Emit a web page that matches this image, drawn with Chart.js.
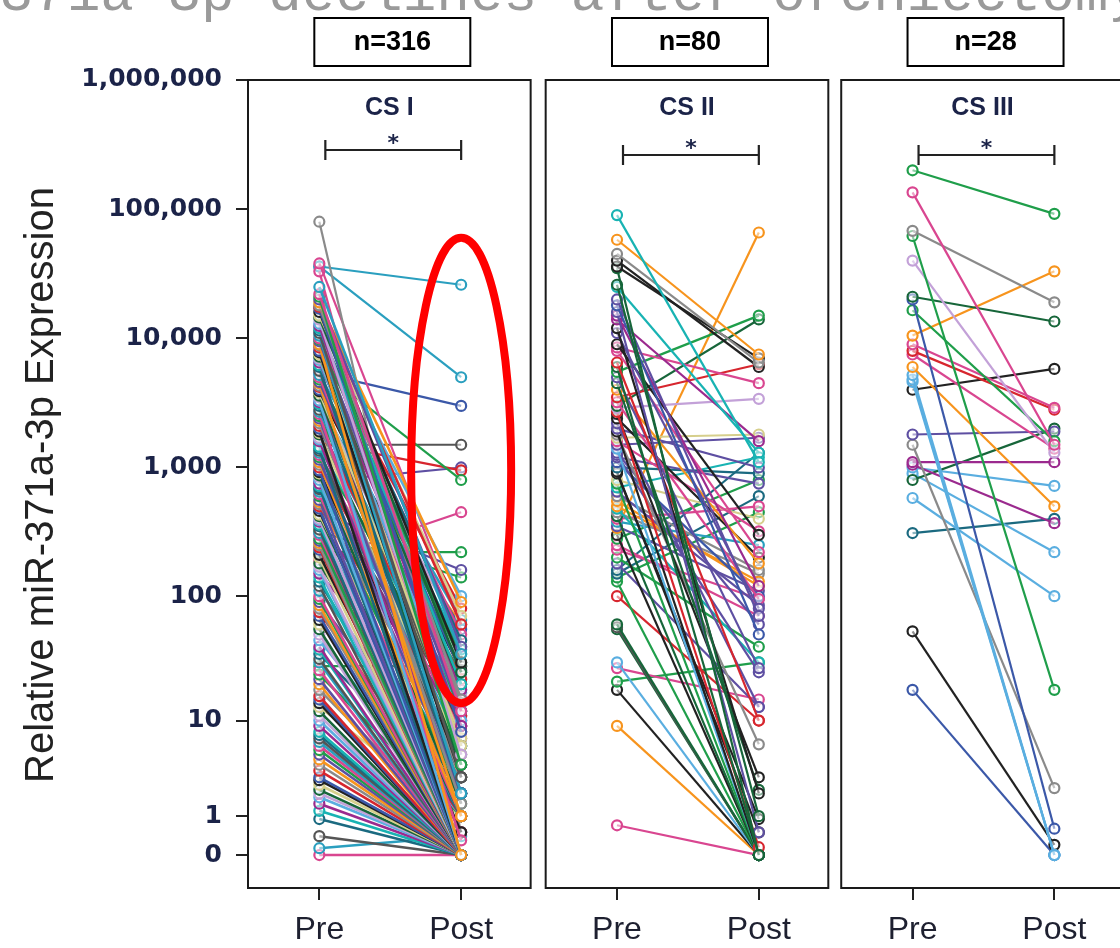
<!DOCTYPE html>
<html>
<head>
<meta charset="utf-8">
<title>miR-371a-3p before and after orchiectomy</title>
<script src="https://cdn.jsdelivr.net/npm/chart.js@4"></script>
<style>
  html, body { margin: 0; padding: 0; background: #fff; overflow: hidden; }
  #wrap { position: relative; width: 1120px; height: 948px; }
</style>
</head>
<body>
<div id="wrap"><canvas id="chart" width="1120" height="948"></canvas></div>
<script>
// ================= DATA =================
const panels = ['CS I', 'CS II', 'CS III'];
const panelN = ['n=316', 'n=80', 'n=28'];
const timepoints = ['Pre', 'Post'];
const yTickValues = [0, 1, 10, 100, 1000, 10000, 100000, 1000000];
const yTickLabels = ['0', '1', '10', '100', '1,000', '10,000', '100,000', '1,000,000'];

// [pre, post] relative expression per patient
const csI = [
  [25000, 35], [22000, 12], [21000, 4], [20000, 40], [19000, 90], [18000, 15], [17500, 60], [17000, 8],
  [16000, 30], [15000, 70], [14500, 25], [14000, 5], [13000, 100], [12500, 9], [12000, 20], [11500, 45],
  [11000, 3], [10500, 2], [10000, 50], [9800, 30], [9500, 12], [9000, 0], [8800, 14], [8500, 80],
  [8000, 25], [7800, 3], [7500, 6], [7200, 20], [7000, 45], [6800, 10], [6500, 18], [6200, 38],
  [6000, 2], [5600, 6], [5200, 65], [5000, 10], [4800, 35], [4600, 15], [4500, 1], [4300, 1.5],
  [4200, 22], [4000, 55], [3900, 26], [3800, 7], [3600, 4], [3500, 16], [3300, 0], [3200, 9],
  [3100, 40], [3000, 4], [2800, 28], [2700, 17], [2600, 0.3], [2500, 12], [2400, 2], [2300, 60],
  [2200, 3], [2100, 11], [2000, 20], [1900, 0], [1850, 5], [1800, 9], [1700, 30], [1650, 22],
  [1600, 2], [1450, 14], [1400, 0], [1350, 3], [1300, 6], [1250, 8], [1200, 25], [1150, 2],
  [1100, 1], [1050, 15], [1000, 11], [950, 0], [920, 4], [900, 40], [870, 1.5], [850, 3],
  [800, 0], [750, 8], [720, 6], [700, 0], [680, 12], [650, 18], [620, 1], [600, 2],
  [560, 0], [540, 3], [520, 5], [500, 9], [480, 0], [460, 0.5], [430, 2], [420, 1],
  [400, 0], [390, 5], [380, 10], [360, 1], [350, 0], [330, 0], [310, 3], [300, 0.5],
  [280, 0], [270, 1], [260, 4], [250, 0], [240, 0], [230, 2], [210, 0.5], [200, 0],
  [180, 2], [170, 0], [160, 0], [150, 7], [140, 0], [130, 1], [120, 0], [110, 3],
  [100, 0], [95, 0], [90, 2], [85, 0], [80, 0], [75, 1], [70, 0], [65, 0],
  [60, 3], [55, 0], [50, 0], [45, 1], [40, 0], [38, 0], [35, 2], [32, 0],
  [30, 0], [26, 0], [24, 1], [22, 0], [20, 0], [18, 0.5], [16, 0], [15, 0],
  [14, 0], [13, 1], [12, 0], [11, 0], [10, 0], [9, 0], [8, 0], [7.5, 0],
  [7, 0], [6.5, 0], [6, 0], [5.5, 0], [5, 0], [4.5, 0], [4, 0], [3.5, 0],
  [3, 0], [2.8, 0], [2.5, 0], [2.2, 0], [2, 0], [1.8, 0], [1.5, 0], [1.2, 0],
  [0.9, 0], [0.4, 0], [0.13, 0.4], [0, 0]
];
// CS I patients whose post value stays high (drawn on top)
const csIHigh = [
  [80000, 0.5], [38000, 60], [33000, 2], [36000, 5000], [36000, 26000], [5400, 3000], [5800, 800],
  [1550, 950], [1500, 1500], [780, 1000], [450, 160], [320, 140], [220, 220], [190, 450], [28, 28]
];

const csII = [
  [90000, 1100], [58000, 7500], [45000, 6500], [40000, 6000], [36000, 7000], [35000, 0], [26000, 1], [25000, 1300],
  [20000, 70], [18000, 50], [16000, 0.5], [15000, 120], [14000, 1600], [12000, 2], [11000, 80], [9000, 300],
  [8500, 4500], [8000, 220], [6500, 10], [6000, 0], [5500, 15000], [5000, 27], [4500, 2.2], [4000, 180],
  [3500, 6300], [3200, 95], [3000, 14000], [2900, 3400], [2700, 0.15], [2600, 3], [2400, 200], [2200, 13],
  [2000, 1000], [1900, 0], [1800, 6.2], [1700, 1800], [1600, 320], [1500, 1700], [1400, 0], [1300, 60],
  [1250, 25], [1200, 750], [1100, 100], [1000, 900], [930, 0.5], [900, 0.9], [800, 400], [750, 0],
  [700, 1200], [650, 85], [600, 160], [550, 120], [500, 130], [480, 30], [450, 150], [420, 0],
  [400, 500], [380, 250], [350, 110], [340, 66000], [300, 0], [280, 800], [250, 70], [230, 95],
  [200, 40], [180, 13], [160, 1300], [150, 600], [140, 450], [130, 0], [100, 10], [60, 0],
  [57, 0], [55, 0], [30, 0], [27, 15], [21, 30], [18, 0], [9, 0], [0.7, 0]
];

const csIII = [
  [200000, 92000], [135000, 1500], [68000, 19000], [62000, 18], [40000, 1300], [21000, 13500], [20000, 0.6],
  [16500, 1600], [10500, 33000], [9000, 2900], [8000, 2800], [7500, 1400], [6000, 500], [5200, 0],
  [4800, 0], [4600, 0], [4000, 5800], [1800, 1900], [1500, 2.3], [1100, 1100], [1050, 370],
  [800, 2000], [1000, 720], [900, 220], [580, 100], [310, 400], [53, 0.2], [18, 0]
];

// ================= STYLE =================
const C = {
  teal: '#2a9fbf', blue: '#3b58a8', gray: '#8a8a8a', green: '#1f9e4a', red: '#d7262e', purple: '#5e4fa2',
  pink: '#d94690', orange: '#f7941d', black: '#222222', dgreen: '#17663a', lpurple: '#c3a1d8',
  khaki: '#d6cf8c', lblue: '#5aaee0', dteal: '#1b6a80', magenta: '#9b2a8e', dgray: '#555555', cyan: '#18b3b3'
};
const cycle = ['teal', 'pink', 'green', 'purple', 'orange', 'gray', 'red', 'blue', 'black', 'khaki',
  'dgreen', 'lpurple', 'lblue', 'magenta', 'cyan', 'dteal', 'dgray'];
const csIHighColors = [
  'gray', 'pink', 'pink', 'teal', 'teal', 'blue', 'green',
  'red', 'dgray', 'purple', 'purple', 'green', 'green', 'pink', 'green'
];
const csIIColors = [
  'cyan', 'orange', 'gray', 'black', 'black', 'dgreen', 'dgreen', 'cyan',
  'purple', 'blue', 'purple', 'magenta', 'magenta', 'black', 'purple', 'black',
  'pink', 'pink', 'red', 'dgreen', 'green', 'purple', 'dgreen', 'orange',
  'red', 'pink', 'dgreen', 'lpurple', 'red', 'black', 'black', 'purple',
  'purple', 'black', 'gray', 'khaki', 'pink', 'purple', 'lblue', 'purple',
  'purple', 'purple', 'blue', 'dteal', 'black', 'black', 'khaki', 'green',
  'cyan', 'purple', 'gray', 'orange', 'orange', 'cyan', 'gray', 'dgreen',
  'pink', 'teal', 'purple', 'orange', 'black', 'green', 'pink', 'pink',
  'green', 'purple', 'dteal', 'dteal', 'green', 'green', 'red', 'dgreen',
  'dgray', 'dgreen', 'lblue', 'pink', 'green', 'black', 'orange', 'pink'
];
const csIIIColors = [
  'green', 'pink', 'gray', 'green', 'lpurple', 'dgreen', 'blue',
  'green', 'orange', 'pink', 'red', 'pink', 'orange', 'lblue',
  'lblue', 'lblue', 'black', 'purple', 'gray', 'magenta', 'magenta',
  'dgreen', 'lblue', 'lblue', 'lblue', 'dteal', 'black', 'blue'
];

const PANEL_X = [0, 2.099, 4.183];
const FRAME_L = -0.503, FRAME_R = 1.49;
const BRACKET_Y = [150, 155, 155];
const tf = v => Math.log10(v + 1);

// ================= DATASETS =================
const datasets = [];
function addLine(p, pair, key, width) {
  const col = C[key];
  datasets.push({
    data: [{ x: PANEL_X[p], y: tf(pair[0]) }, { x: PANEL_X[p] + 1, y: tf(pair[1]) }],
    borderColor: col,
    borderWidth: width,
    pointRadius: 5,
    pointBorderWidth: 2.2,
    pointBorderColor: col,
    pointBackgroundColor: 'rgba(255,255,255,0.5)',
    tension: 0
  });
}
csI.forEach((pair, i) => addLine(0, pair, cycle[i % cycle.length], 2.6));
csIHigh.forEach((pair, i) => addLine(0, pair, csIHighColors[i], 2.2));
csII.forEach((pair, i) => addLine(1, pair, csIIColors[i], 2.2));
csIII.forEach((pair, i) => addLine(2, pair, csIIIColors[i], 2.2));

// ================= OVERLAY (frames, titles, brackets, boxes) =================
const overlay = {
  id: 'overlay',
  afterDatasetsDraw(chart) {
    const { ctx, chartArea: a, scales: { x, y } } = chart;
    ctx.save();
    PANEL_X.forEach((o, p) => {
      const l = x.getPixelForValue(o + FRAME_L), r = x.getPixelForValue(o + FRAME_R);
      const cx = (l + r) / 2;
      ctx.strokeStyle = '#1a1a1a';
      ctx.lineWidth = 2;
      ctx.strokeRect(l, a.top, r - l, a.bottom - a.top);

      ctx.fillStyle = '#1b2348';
      ctx.textAlign = 'center';
      ctx.textBaseline = 'middle';
      ctx.font = 'bold 25px "Liberation Sans", Arial, sans-serif';
      ctx.fillText(panels[p], cx, 108);

      const x0 = x.getPixelForValue(o), x1 = x.getPixelForValue(o + 1), by = BRACKET_Y[p];
      ctx.strokeStyle = '#222';
      ctx.lineWidth = 2.2;
      ctx.beginPath();
      ctx.moveTo(x0 + 6, by); ctx.lineTo(x1, by);
      ctx.moveTo(x0 + 6, by - 10); ctx.lineTo(x0 + 6, by + 10);
      ctx.moveTo(x1, by - 10); ctx.lineTo(x1, by + 10);
      ctx.stroke();
      ctx.font = 'bold 22px "DejaVu Sans", sans-serif';
      ctx.fillText('*', (x0 + x1) / 2 + 3, by - 6);

      // n= box above each panel
      ctx.lineWidth = 2;
      ctx.fillStyle = '#fff';
      ctx.fillRect(cx + 3 - 78, 18, 156, 48);
      ctx.strokeStyle = '#000';
      ctx.strokeRect(cx + 3 - 78, 18, 156, 48);
      ctx.fillStyle = '#000';
      ctx.font = 'bold 27px "Liberation Sans Narrow", "Liberation Sans", Arial, sans-serif';
      ctx.fillText(panelN[p], cx + 3, 43);
    });

    // red highlight ellipse around post values of CS I
    const ex = x.getPixelForValue(PANEL_X[0] + 1);
    const eTop = y.getPixelForValue(tf(60000)), eBot = y.getPixelForValue(tf(14));
    ctx.strokeStyle = '#ff0000';
    ctx.lineWidth = 8;
    ctx.beginPath();
    ctx.ellipse(ex, (eTop + eBot) / 2, 50, (eBot - eTop) / 2, 0, 0, Math.PI * 2);
    ctx.stroke();
    ctx.restore();
  },
  afterDraw(chart) {
    const { ctx } = chart;
    ctx.save();
    // y axis title
    ctx.translate(42, 485);
    ctx.rotate(-Math.PI / 2);
    ctx.fillStyle = '#222';
    ctx.textAlign = 'center';
    ctx.textBaseline = 'middle';
    ctx.font = '40px "Liberation Sans", Arial, sans-serif';
    ctx.fillText('Relative miR-371a-3p Expression', 0, 0);
    ctx.restore();

    // slide title, cut off at the top
    ctx.save();
    ctx.fillStyle = '#9a9a9a';
    ctx.textAlign = 'left';
    ctx.textBaseline = 'alphabetic';
    ctx.font = '56px "Liberation Mono", monospace';
    ctx.fillText('miR-371a-3p declines after orchiectomy', -135, 10);
    ctx.restore();
  }
};

// ================= CHART =================
new Chart(document.getElementById('chart'), {
  type: 'line',
  data: { datasets },
  plugins: [overlay],
  options: {
    responsive: false,
    animation: false,
    layout: { padding: { top: 80, right: 0, bottom: 0, left: 0 } },
    plugins: { legend: { display: false }, tooltip: { enabled: false } },
    scales: {
      x: {
        type: 'linear',
        min: -0.503,
        max: 5.595,
        afterBuildTicks: s => { s.ticks = PANEL_X.flatMap(o => [{ value: o }, { value: o + 1 }]); },
        afterFit: s => { s.height = 60; },
        ticks: {
          autoSkip: false, maxRotation: 0, padding: 11, color: '#1e2030',
          font: { family: '"Liberation Sans", Arial, sans-serif', size: 32 },
          callback: (v, i) => timepoints[i % 2]
        },
        grid: { drawOnChartArea: false, drawTicks: true, tickLength: 12, color: '#222', lineWidth: 2 },
        border: { display: false }
      },
      y: {
        type: 'linear',
        min: -0.255,
        max: 6,
        afterBuildTicks: s => { s.ticks = yTickValues.map(v => ({ value: tf(v) })); },
        afterFit: s => { s.width = 248; },
        ticks: {
          autoSkip: false, padding: 14, color: '#1b2348',
          font: { family: '"DejaVu Sans", sans-serif', size: 25, weight: 'bold' },
          callback: (v, i) => yTickLabels[i]
        },
        grid: { drawOnChartArea: false, drawTicks: true, tickLength: 12, color: '#222', lineWidth: 2 },
        border: { display: true, color: '#222', width: 2 }
      }
    }
  }
});
</script>
</body>
</html>
